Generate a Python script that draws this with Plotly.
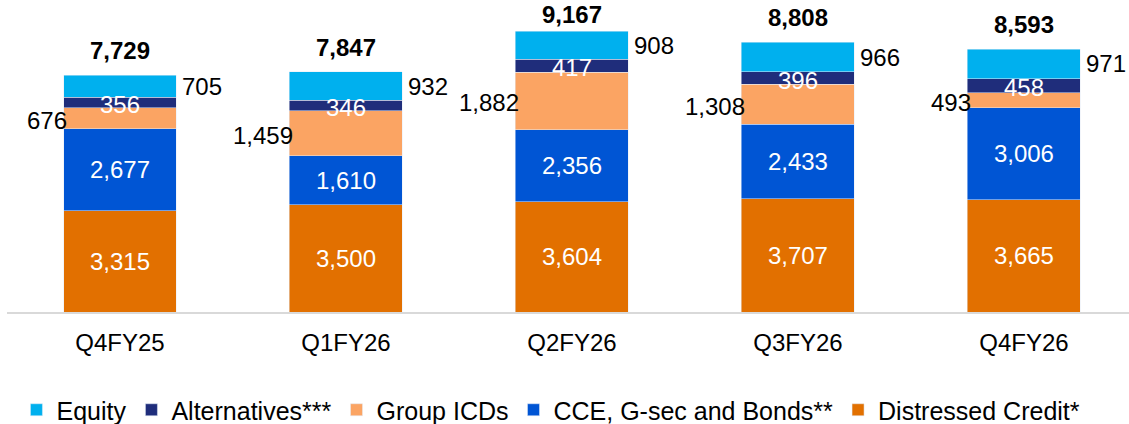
import plotly.graph_objects as go

quarters = ["Q4FY25", "Q1FY26", "Q2FY26", "Q3FY26", "Q4FY26"]
distressed = [3315, 3500, 3604, 3707, 3665]
cce_bonds = [2677, 1610, 2356, 2433, 3006]
group_icds = [676, 1459, 1882, 1308, 493]
alternatives = [356, 346, 417, 396, 458]
equity = [705, 932, 908, 966, 971]
totals = [7729, 7847, 9167, 8808, 8593]

FONT = "Arial, Liberation Sans, sans-serif"
C_DIST = "#E27000"
C_CCE = "#0055D4"
C_ICD = "#FBA463"
C_ALT = "#1F2D7B"
C_EQ = "#00B0EE"
LBL = 24
Y_MAX = 10000
MARGIN_T, MARGIN_B, HEIGHT = 6, 112, 424
PLOT_H = HEIGHT - MARGIN_T - MARGIN_B

def fmt(v):
    return f"{v:,}"

fig = go.Figure()

fig.add_trace(go.Bar(
    x=quarters, y=distressed, name="Distressed Credit*", marker_color=C_DIST,
    text=[fmt(v) for v in distressed], textposition="inside", insidetextanchor="middle",
    textfont=dict(color="white", size=LBL, family=FONT), constraintext="none",
))
fig.add_trace(go.Bar(
    x=quarters, y=cce_bonds, name="CCE, G-sec and Bonds**", marker_color=C_CCE,
    text=[fmt(v) for v in cce_bonds], textposition="inside", insidetextanchor="middle",
    textfont=dict(color="white", size=LBL, family=FONT), constraintext="none",
))
fig.add_trace(go.Bar(
    x=quarters, y=group_icds, name="Group ICDs", marker_color=C_ICD,
))
fig.add_trace(go.Bar(
    x=quarters, y=alternatives, name="Alternatives***", marker_color=C_ALT,
))
fig.add_trace(go.Bar(
    x=quarters, y=equity, name="Equity", marker_color=C_EQ,
))

annotations = []
half_bar_px = 56.5
for i, q in enumerate(quarters):
    base_icd = distressed[i] + cce_bonds[i]
    base_alt = base_icd + group_icds[i]
    base_eq = base_alt + alternatives[i]
    annotations.append(dict(
        x=q, y=base_icd + group_icds[i] / 2, text=fmt(group_icds[i]), showarrow=False,
        xanchor="right", yanchor="middle", xshift=-half_bar_px + 6, yshift=-2,
        font=dict(size=LBL, color="black", family=FONT),
    ))
    annotations.append(dict(
        x=q, y=base_alt + alternatives[i] / 2, text=fmt(alternatives[i]), showarrow=False,
        xanchor="center", yanchor="middle", yshift=-2,
        font=dict(size=LBL, color="white", family=FONT),
    ))
    annotations.append(dict(
        x=q, y=base_eq + equity[i] / 2, text=fmt(equity[i]), showarrow=False,
        xanchor="left", yanchor="middle", xshift=half_bar_px + 4,
        font=dict(size=LBL, color="black", family=FONT),
    ))
    # keep total label inside the figure: limit the shift by the room above the bar
    top_px = MARGIN_T + PLOT_H * (1 - totals[i] / Y_MAX)
    shift = min(9, top_px - 30)
    annotations.append(dict(
        x=q, y=totals[i], text=f"<b>{fmt(totals[i])}</b>", showarrow=False,
        xanchor="center", yanchor="bottom", yshift=shift,
        font=dict(size=LBL, color="black", family=FONT),
    ))

fig.update_layout(
    barmode="stack",
    bargap=0.5,
    width=1129, height=HEIGHT,
    margin=dict(l=7, r=0, t=MARGIN_T, b=MARGIN_B, autoexpand=False),
    paper_bgcolor="white", plot_bgcolor="white",
    font=dict(family=FONT, color="black"),
    showlegend=True,
    legend=dict(
        orientation="h", traceorder="reversed",
        xref="container", yref="container",
        x=0.488, xanchor="center", y=0.033, yanchor="middle",
        font=dict(size=25, color="black", family=FONT),
        itemwidth=30,
    ),
    annotations=annotations,
    hovermode=False,
)
fig.update_xaxes(
    range=[-0.5, 4.465], showline=True, linecolor="#D9D9D9", linewidth=2,
    ticks="", ticklabelstandoff=8,
    tickfont=dict(size=LBL, color="black", family=FONT), showgrid=False,
)
fig.update_yaxes(range=[0, Y_MAX], visible=False, showgrid=False, zeroline=False)

fig.write_html(
    "out.html",
    config={"displayModeBar": False},
    post_script="document.body.style.margin='0';document.body.style.overflow='hidden';",
)
